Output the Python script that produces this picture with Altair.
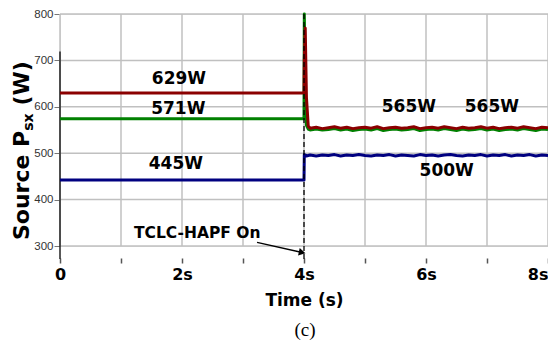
import altair as alt
import pandas as pd

# ---- data ----
t_before = [0.0, 3.99]
red_before = [630, 630]
green_before = [574, 574]
blue_before = [442, 442]

# transient at 4 s and noisy steady state after
t_after = [4.0, 4.005, 4.02, 4.04, 4.07, 4.1, 4.2, 4.3, 4.4, 4.5, 4.6, 4.7, 4.8, 4.9, 5.0,
           5.1, 5.2, 5.3, 5.4, 5.5, 5.6, 5.7, 5.8, 5.9, 6.0, 6.1, 6.2, 6.3, 6.4, 6.5,
           6.6, 6.7, 6.8, 6.9, 7.0, 7.1, 7.2, 7.3, 7.4, 7.5, 7.6, 7.7, 7.8, 7.9, 8.0]
red_after = [630, 700, 770, 620, 558, 554, 556, 553, 555, 557, 554, 556, 553, 555, 556,
             554, 557, 553, 555, 556, 554, 555, 557, 553, 555, 556, 554, 557, 555, 553,
             556, 554, 555, 557, 554, 556, 553, 555, 556, 554, 557, 555, 553, 556, 555]
green_after = [574, 800, 640, 560, 552, 550, 552, 550, 551, 553, 550, 552, 549, 551, 552,
               550, 553, 549, 551, 552, 550, 551, 553, 549, 551, 552, 550, 553, 551, 549,
               552, 550, 551, 553, 550, 552, 549, 551, 552, 550, 553, 551, 549, 552, 551]
blue_after = [442, 497, 496, 494, 495, 496, 494, 496, 495, 497, 494, 496, 495, 497, 495,
              494, 496, 495, 497, 494, 496, 495, 494, 497, 495, 496, 494, 496, 497, 495,
              494, 496, 495, 497, 494, 496, 495, 497, 494, 496, 495, 497, 494, 496, 495]

labels_text = ["629W", "571W", "445W", "565W", "565W", "500W"]
labels_t = [1.95, 1.94, 1.9, 5.72, 7.08, 6.34]
labels_v = [660, 595, 476, 599, 599, 461]

annot_text = "TCLC-HAPF On"
annot_t, annot_v = 2.25, 329
arrow_t = [3.23, 3.97]
arrow_v = [308, 286]

y_title_parts = ["Source P", "sx", "(W)"]   # "Source P" + subscript "sx" + " (W)"
x_title = "Time (s)"
caption = "(c)"

y_ticks = [300, 400, 500, 600, 700, 800]
x_ticks = [0, 1, 2, 3, 4, 5, 6, 7, 8]

# ---- tables ----
rows = []
for name, before, after in [("blue", blue_before, blue_after),
                            ("green", green_before, green_after),
                            ("red", red_before, red_after)]:
    for t, v in zip(t_before + t_after, before + after):
        rows.append({"t": t, "v": v, "s": name})
df = pd.DataFrame(rows)

colors = {"blue": "#000080", "green": "#008000", "red": "#8b0000"}

xs = alt.Scale(domain=[0, 8], nice=False)
ys = alt.Scale(domain=[300, 800], nice=False, zero=False)

FONT = "DejaVu Sans"

base = alt.Chart(df)

lines = base.mark_line(strokeWidth=3, strokeJoin="round").encode(
    x=alt.X("t:Q", scale=xs,
            axis=alt.Axis(values=x_ticks, title=x_title,
                          labelExpr="datum.value == 0 ? '0' : (datum.value % 2 == 0 ? datum.value + 's' : '')",
                          labelFlush=False,
                          labelAlign={"condition": {"test": "datum.value == 8", "value": "right"},
                                      "value": "center"},
                          labelFont=FONT, labelFontWeight="bold", labelFontSize=16, labelColor="black",
                          labelPadding=3,
                          titleFont=FONT, titleFontWeight="bold", titleFontSize=17, titleColor="black",
                          titleY=42, titleBaseline="middle",
                          grid=False, domain=False, offset=12, tickSize=5,
                          tickColor="#555", tickWidth=1.5)),
    y=alt.Y("v:Q", scale=ys,
            axis=alt.Axis(values=y_ticks, title="",
                          labelFont="Liberation Sans", labelFontSize=11.5, labelColor="#333",
                          labelPadding=1,
                          grid=False, domain=False, tickSize=6, tickColor="#777")),
    color=alt.Color("s:N", scale=alt.Scale(domain=list(colors.keys()), range=list(colors.values())),
                    legend=None),
    order=alt.Order("s:N", sort="ascending"),
    detail="s:N",
)

gx = alt.Chart(pd.DataFrame({"t": x_ticks})).mark_rule(color="#c0c0c0", strokeWidth=1.5).encode(
    x=alt.X("t:Q", scale=xs), y=alt.value(0), y2=alt.value(232))
gy = alt.Chart(pd.DataFrame({"v": y_ticks})).mark_rule(color="#c0c0c0", strokeWidth=1.5).encode(
    y=alt.Y("v:Q", scale=ys), x=alt.value(0), x2=alt.value(488))

start_line = alt.Chart(pd.DataFrame({"t": [0], "v1": [719], "v2": [272]})).mark_rule(
    color="#222", strokeWidth=1.5).encode(x="t:Q", y="v1:Q", y2="v2:Q")

on_line = alt.Chart(pd.DataFrame({"t": [4], "v1": [800], "v2": [266]})).mark_rule(
    color="black", strokeWidth=1.3, strokeDash=[5, 3]).encode(x="t:Q", y="v1:Q", y2="v2:Q")

lbl = alt.Chart(pd.DataFrame({"t": labels_t, "v": labels_v, "txt": labels_text})).mark_text(
    font=FONT, fontWeight="bold", fontSize=17, color="black", baseline="middle", align="center"
).encode(x="t:Q", y="v:Q", text="txt:N")

ann = alt.Chart(pd.DataFrame({"t": [annot_t], "v": [annot_v], "txt": [annot_text]})).mark_text(
    font=FONT, fontWeight="bold", fontSize=15.5, color="black", baseline="middle", align="center"
).encode(x="t:Q", y="v:Q", text="txt:N")

arr_df = pd.DataFrame({"t": [arrow_t[0]], "v": [arrow_v[0]], "t2": [arrow_t[1]], "v2": [arrow_v[1]]})
arr = alt.Chart(arr_df).mark_rule(color="black", strokeWidth=1.3).encode(
    x="t:Q", y="v:Q", x2="t2:Q", y2="v2:Q")
head = alt.Chart(pd.DataFrame({"t": [arrow_t[1]], "v": [arrow_v[1]]})).mark_point(
    shape="triangle-right", filled=True, color="black", size=60, angle=12, opacity=1
).encode(x="t:Q", y="v:Q")

# y-axis title with a real subscript, built from three rotated text pieces
def title_piece(txt, size, xpix, ypix):
    return alt.Chart(pd.DataFrame({"txt": [txt]})).mark_text(
        font=FONT, fontWeight="bold", fontSize=size, color="black", angle=270,
        align="left", baseline="alphabetic"
    ).encode(text="txt:N", x=alt.value(xpix), y=alt.value(ypix))

yt1 = title_piece(y_title_parts[0], 22, -31, 226)
yt2 = title_piece(y_title_parts[1], 14, -27, 116.8)
yt3 = title_piece(y_title_parts[2], 22, -31, 91.5)

cap = alt.Chart(pd.DataFrame({"txt": [caption]})).mark_text(
    font="Liberation Serif", fontSize=19, color="black", align="center", baseline="bottom"
).encode(text="txt:N", x=alt.value(245), y=alt.value(326))

chart = alt.layer(gx, gy, start_line, lines, on_line, lbl, ann, arr, head,
                  yt1, yt2, yt3, cap).properties(
    width=488, height=232,
    autosize=alt.AutoSizeParams(type="none"),
    padding={"left": 52, "top": 6, "right": 0, "bottom": 95},
).configure_view(stroke=None).configure(background="white")

chart.save("out.html", embed_options={"renderer": "svg", "actions": False})
